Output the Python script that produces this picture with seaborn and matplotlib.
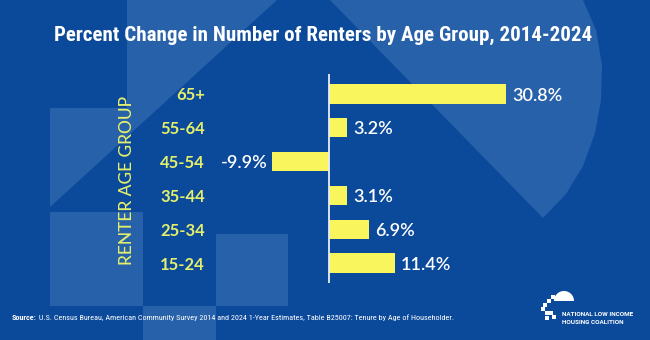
import matplotlib
matplotlib.use("Agg")
import matplotlib.pyplot as plt
from matplotlib.patches import Polygon, Rectangle
import numpy as np
import seaborn as sns

# Data
age_groups = ["65+", "55-64", "45-54", "35-44", "25-34", "15-24"]
pct_change = [30.8, 3.2, -9.9, 3.1, 6.9, 11.4]

title = "Percent Change in Number of Renters by Age Group, 2014-2024"
axis_label = "RENTER AGE GROUP"
source_bold = "Source:"
source_text = (" U.S. Census Bureau, American Community Survey 2014 and 2024 1-Year Estimates, "
               "Table B25007: Tenure by Age of Householder.")
org_lines = ["NATIONAL LOW INCOME", "HOUSING COALITION"]

# Colours
BG = "#0b4a9b"
BG_LIGHT = "#2761a9"
BAR = "#f8f65c"
CAT = "#e4ef6c"
WHITE = "#ffffff"

sns.set_theme(style="white")
plt.rcParams["font.family"] = ["Lato", "DejaVu Sans"]
NARROW = ["Roboto Condensed", "Roboto", "DejaVu Sans"]

W, H = 650, 340
fig = plt.figure(figsize=(W / 100, H / 100), dpi=100, facecolor=BG)


def fit_width(txt, target_px):
    """Rescale a text's font size so it spans target_px pixels."""
    r = fig.canvas.get_renderer()
    w = txt.get_window_extent(r).width
    txt.set_fontsize(txt.get_fontsize() * target_px / w)


# Decorative background layer in pixel coordinates
bg = fig.add_axes([0, 0, 1, 1], zorder=-5)
bg.set_xlim(0, W)
bg.set_ylim(H, 0)
bg.axis("off")
bg.set_facecolor(BG)
shapes = [
    [(127, 0), (277, 0), (50, 207), (50, 108), (127, 108)],
    [(50, 212), (143, 212), (143, 306), (50, 306)],
    [(216, 234), (288, 234), (288, 306), (216, 306)],
    [(143, 306), (216, 306), (216, 340), (143, 340)],
    [(330, 0), (543, 218), (566, 194), (583, 166), (595, 133), (601, 100),
     (602, 65), (596, 30), (583, 0)],
]
for pts in shapes:
    bg.add_patch(Polygon(pts, closed=True, facecolor=BG_LIGHT, edgecolor="none"))

# Logo mark: dome and stepped blocks
theta = np.linspace(0, np.pi, 40)
dome = [(564 + 10 * np.cos(t), 301 - 10 * np.sin(t)) for t in theta]
bg.add_patch(Polygon(dome, closed=True, facecolor=WHITE, edgecolor="none"))
blocks = [(551, 295), (547, 299), (543, 303), (541, 307), (545, 311),
          (549, 311), (552, 315), (545, 316)]
for bx, by in blocks:
    bg.add_patch(Rectangle((bx, by), 3.6, 3.6, facecolor=WHITE, edgecolor="none"))

# Main chart axes: x=0 at 329px, 5.75px per percentage point
left_px, right_px = 214, 559
top_px, bot_px = 73.7, 283.3
ax = fig.add_axes([left_px / W, 1 - bot_px / H, (right_px - left_px) / W,
                   (bot_px - top_px) / H])
ax.set_facecolor("none")

sns.barplot(x=pct_change, y=age_groups, orient="h", color=BAR, saturation=1,
            width=0.57, linewidth=0, ax=ax)
ax.set_xlim(-20, 40)
ax.set_ylim(5.6, -0.6)
ax.axvline(0, color="#e8eef8", lw=1.3, zorder=3)

for i, v in enumerate(pct_change):
    if v >= 0:
        ax.annotate(f"{v:.1f}%", (v, i), xytext=(4.5, -1.2), textcoords="offset points",
                    ha="left", va="center", color=WHITE, fontsize=13, fontweight="semibold")
    else:
        ax.annotate(f"{v:.1f}%", (v, i), xytext=(-3, -1.2), textcoords="offset points",
                    ha="right", va="center", color=WHITE, fontsize=13, fontweight="semibold")

ax.set_xticks([])
ax.tick_params(axis="y", length=0, pad=6.5)
for lab in ax.get_yticklabels():
    lab.set_color(CAT)
    lab.set_fontsize(12)
    lab.set_fontweight("bold")
ax.set_xlabel("")
ax.set_ylabel("")
for s in ax.spines.values():
    s.set_visible(False)

fig.text(127 / W, 1 - 180 / H, axis_label, rotation=90, ha="center", va="center",
         color=CAT, fontsize=12.5, fontweight="medium")

ttl = fig.text(323 / W, 1 - 35 / H, title, ha="center", va="center", color=WHITE,
               fontsize=15, fontweight="semibold", family=NARROW)
fit_width(ttl, 538)

t1 = fig.text(12 / W, 1 - 318 / H, source_bold, ha="left", va="center", color=WHITE,
              fontsize=6.5, fontweight="bold", family=NARROW)
t2 = fig.text(0, 1 - 318 / H, source_text, ha="left", va="center", color=WHITE,
              fontsize=6.5, family=NARROW)
r = fig.canvas.get_renderer()
total = t1.get_window_extent(r).width + t2.get_window_extent(r).width
scale = 443 / total
t1.set_fontsize(6.5 * scale)
t2.set_fontsize(6.5 * scale)
bb = t1.get_window_extent(fig.canvas.get_renderer())
t2.set_x(bb.x1 / W)

for k, line in enumerate(org_lines):
    o = fig.text(562 / W, 1 - (314.5 + 7.5 * k) / H, line, ha="left", va="center",
                 color=WHITE, fontsize=4.5, fontweight="bold", family=["Roboto", "DejaVu Sans"])
    if k == 0:
        fit_width(o, 71)
        org_size = o.get_fontsize()
    else:
        o.set_fontsize(org_size)

fig.savefig("out.png", dpi=100, facecolor=BG)
